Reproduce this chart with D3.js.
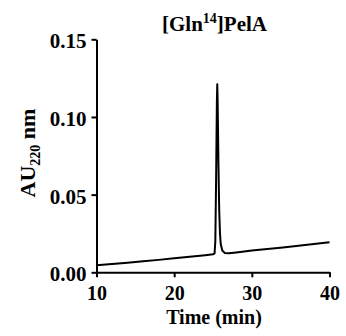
<!DOCTYPE html>
<html>
<head>
<meta charset="utf-8">
<script src="https://cdn.jsdelivr.net/npm/d3@7"></script>
<style>
  html, body { margin: 0; padding: 0; background: #fff; }
  svg { display: block; }
</style>
</head>
<body>
<div id="chart"></div>
<script>
// chromatogram trace
const time = [10, 12, 14, 16, 18, 20, 22, 24, 25.0, 25.2, 25.3, 25.4, 25.5, 25.55, 25.6, 25.7, 25.8, 25.9, 26.0, 26.2, 26.5, 27, 28, 30, 32, 34, 36, 38, 40];
const absorb = [0.0045, 0.0053, 0.0062, 0.0071, 0.0080, 0.0090, 0.0100, 0.0110, 0.0116, 0.0122, 0.020, 0.060, 0.110, 0.121, 0.110, 0.070, 0.040, 0.025, 0.018, 0.014, 0.0125, 0.0122, 0.0128, 0.0140, 0.0150, 0.0160, 0.0171, 0.0182, 0.0194];
const xTicks = [10, 20, 30, 40];
const yTicks = [0, 0.05, 0.10, 0.15];

const serif = "'Liberation Serif', 'Times New Roman', Times, serif";
const width = 346;
const height = 336;
const margin = { left: 96.5, right: 16.5, top: 39.3, bottom: 63.7 };

const svg = d3
  .select('#chart')
  .append('svg')
  .attr('width', width)
  .attr('height', height)
  .style('font-family', serif)
  .style('font-weight', 'bold');

const x = d3.scaleLinear().domain([10, 40]).range([margin.left, width - margin.right]);
const y = d3.scaleLinear().domain([0, 0.15]).range([height - margin.bottom, margin.top]);

const line = d3
  .line()
  .x((d) => x(d[0]))
  .y((d) => y(d[1]));

svg
  .append('path')
  .datum(time.map((t, i) => [t, absorb[i]]))
  .attr('fill', 'none')
  .attr('stroke', '#000')
  .attr('stroke-width', 2)
  .attr('stroke-linejoin', 'round')
  .attr('d', line);

const xAxis = svg
  .append('g')
  .attr('transform', `translate(0,${y(0)})`)
  .call(d3.axisBottom(x).tickValues(xTicks).tickSize(5).tickSizeOuter(0).tickPadding(9));

const yAxis = svg
  .append('g')
  .attr('transform', `translate(${x(10)},0)`)
  .call(
    d3.axisLeft(y)
      .tickValues(yTicks)
      .tickFormat(d3.format('.2f'))
      .tickSize(5)
      .tickSizeOuter(0)
      .tickPadding(5)
  );

[xAxis, yAxis].forEach((g) => {
  g.attr('font-family', null).attr('font-size', null);
  g.select('.domain').attr('stroke-width', 2);
  g.selectAll('.tick line').attr('stroke-width', 2);
  g.selectAll('.tick text')
    .style('font-family', serif)
    .style('font-weight', 'bold');
});
xAxis.selectAll('.tick text').style('font-size', '20px');
yAxis.selectAll('.tick text').style('font-size', '21px').attr('dy', '0.4em');

// title
const title = svg
  .append('text')
  .attr('x', 214.5)
  .attr('y', 31)
  .attr('text-anchor', 'middle')
  .style('font-size', '21px');
title.append('tspan').text('[Gln');
title.append('tspan').style('font-size', '14px').attr('dy', -8).text('14');
title.append('tspan').attr('dy', 8).text(']PelA');

// axis titles
svg
  .append('text')
  .attr('x', 214)
  .attr('y', 324)
  .attr('text-anchor', 'middle')
  .style('font-size', '20px')
  .text('Time (min)');

const yl = svg
  .append('text')
  .attr('transform', `translate(35,153) rotate(-90)`)
  .attr('text-anchor', 'middle')
  .style('font-size', '22px');
yl.append('tspan').text('AU');
yl.append('tspan').style('font-size', '14px').attr('dy', 5).text('220');
yl.append('tspan').attr('dy', -5).text(' nm');
</script>
</body>
</html>
